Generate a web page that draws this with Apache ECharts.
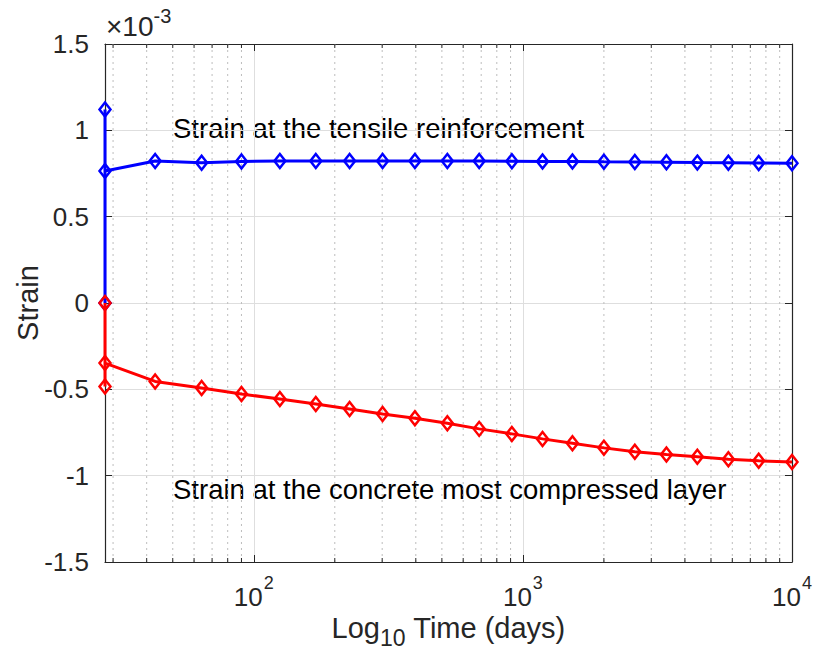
<!DOCTYPE html>
<html>
<head>
<meta charset="utf-8">
<script src="https://cdn.jsdelivr.net/npm/echarts@6/dist/echarts.min.js"></script>
<style>html,body{margin:0;padding:0;background:#fff}#c{width:813px;height:659px}</style>
</head>
<body>
<div id="c"></div>
<script>
// Time (days), log scale
const timeDays = [28, 28, 28, 43, 64, 90, 125, 170, 227, 301, 397, 524, 688, 910, 1183, 1528, 2000, 2606, 3415, 4449, 5802, 7520, 10000];
// Strain values in units of 1e-3
const strainTensile = [0, 1.12, 0.765, 0.822, 0.812, 0.82, 0.822, 0.823, 0.823, 0.823, 0.823, 0.822, 0.822, 0.821, 0.82, 0.82, 0.818, 0.817, 0.815, 0.813, 0.812, 0.811, 0.81];
const strainConcrete = [0, -0.483, -0.348, -0.454, -0.492, -0.527, -0.556, -0.585, -0.614, -0.643, -0.668, -0.697, -0.729, -0.758, -0.787, -0.812, -0.839, -0.861, -0.878, -0.891, -0.905, -0.914, -0.921];
const minorTicks = [30, 40, 50, 60, 70, 80, 90, 200, 300, 400, 500, 600, 700, 800, 900, 2000, 3000, 4000, 5000, 6000, 7000, 8000, 9000];
const xMin = 28, xMax = 10000, yMin = -1.5, yMax = 1.5, yStep = 0.5;
const labelTensile = 'Strain at the tensile reinforcement';
const labelConcrete = 'Strain at the concrete most compressed layer';

const FONT = '"Liberation Sans", Arial, Helvetica, sans-serif';
const AX = '#262626';
const chart = echarts.init(document.getElementById('c'), null, {renderer: 'svg'});

function pair(xs, ys) { return xs.map((x, i) => [x, ys[i]]); }
function isPow10(v) { const l = Math.log10(v); return Math.abs(l - Math.round(l)) < 1e-6; }

const option = {
  backgroundColor: '#fff',
  animation: false,
  grid: {left: 105, right: 21, top: 44, bottom: 97, containLabel: false, outerBoundsMode: 'none'},
  xAxis: [{
    type: 'log', logBase: 10, min: xMin, max: xMax,
    name: '{a|Log}{s|10}{a| Time (days)}', nameLocation: 'middle', nameGap: 51, nameMoveOverlap: false,
    nameTextStyle: {rich: {
      a: {fontFamily: FONT, fontSize: 29, color: AX, lineHeight: 36, verticalAlign: 'top'},
      s: {fontFamily: FONT, fontSize: 23, color: AX, lineHeight: 23, verticalAlign: 'bottom', padding: [21, 0, 0, 0]}
    }},
    axisLine: {show: true, onZero: false, lineStyle: {color: AX, width: 1.2}},
    axisTick: {show: true, inside: true, length: 7, lineStyle: {color: AX}},
    axisLabel: {
      margin: 12,
      formatter: v => isPow10(v) ? '{b|10}{p|' + Math.round(Math.log10(v)) + '}' : '',
      rich: {
        b: {fontFamily: FONT, fontSize: 26, color: AX, lineHeight: 36, verticalAlign: 'bottom'},
        p: {fontFamily: FONT, fontSize: 18, color: AX, lineHeight: 36, verticalAlign: 'top', padding: [0, 0, 0, 1]}
      },
      showMinLabel: false
    },
    splitLine: {show: true, lineStyle: {color: '#dedede', width: 1}}
  }, {
    type: 'log', logBase: 10, min: xMin, max: xMax, position: 'top',
    axisLine: {show: true, onZero: false, lineStyle: {color: AX, width: 1.2}},
    axisTick: {show: true, inside: true, length: 7, lineStyle: {color: AX}},
    axisLabel: {show: false}, splitLine: {show: false}
  }],
  yAxis: [{
    type: 'value', min: yMin, max: yMax, interval: yStep,
    name: 'Strain', nameLocation: 'middle', nameGap: 63, nameRotate: 90, nameMoveOverlap: false,
    nameTextStyle: {fontFamily: FONT, fontSize: 29, color: AX},
    axisLine: {show: true, onZero: false, lineStyle: {color: AX, width: 1.2}},
    axisTick: {show: true, inside: true, length: 7, lineStyle: {color: AX}},
    axisLabel: {fontFamily: FONT, fontSize: 26, color: AX, margin: 16},
    splitLine: {show: true, lineStyle: {color: '#dedede', width: 1}}
  }, {
    type: 'value', min: yMin, max: yMax, interval: yStep, position: 'right',
    axisLine: {show: true, onZero: false, lineStyle: {color: AX, width: 1.2}},
    axisTick: {show: true, inside: true, length: 7, lineStyle: {color: AX}},
    axisLabel: {show: false}, splitLine: {show: false}
  }],
  graphic: [
    {type: 'text', left: 106, top: 6, style: {
      text: '{a|×10}{b|-3}', rich: {
        a: {fontFamily: FONT, fontSize: 28, fill: AX, lineHeight: 34, verticalAlign: 'bottom'},
        b: {fontFamily: FONT, fontSize: 20, fill: AX, lineHeight: 34, verticalAlign: 'top'}
      }}},
    {type: 'text', x: 173, y: 128, style: {text: labelTensile, fontFamily: FONT, fontSize: 27.5, fill: '#000', verticalAlign: 'middle'}},
    {type: 'text', x: 173, y: 489, style: {text: labelConcrete, fontFamily: FONT, fontSize: 27.5, fill: '#000', verticalAlign: 'middle'}}
  ],
  series: [{
    type: 'custom', xAxisIndex: 0, yAxisIndex: 0, silent: true, z: 1,
    data: minorTicks.map(v => [v, 0]),
    encode: {x: 0, y: 1},
    clip: false,
    renderItem: function (params, api) {
      const v = api.value(0);
      const top = api.coord([v, yMax]);
      const bot = api.coord([v, yMin]);
      const st = {stroke: AX, lineWidth: 1};
      return {type: 'group', children: [
        {type: 'line', shape: {x1: top[0], y1: top[1], x2: bot[0], y2: bot[1]}, style: {stroke: '#bdbdbd', lineWidth: 1, lineDash: [2, 4]}},
        {type: 'line', shape: {x1: bot[0], y1: bot[1], x2: bot[0], y2: bot[1] - 4}, style: st},
        {type: 'line', shape: {x1: top[0], y1: top[1], x2: top[0], y2: top[1] + 4}, style: st}
      ]};
    }
  }, {
    type: 'line', name: 'Tensile', data: pair(timeDays, strainTensile), clip: false, z: 3,
    symbol: 'diamond', symbolSize: [11, 14], showAllSymbol: true,
    lineStyle: {color: '#0000ff', width: 3},
    itemStyle: {color: 'rgba(255,255,255,0)', borderColor: '#0000ff', borderWidth: 2.5}
  }, {
    type: 'line', name: 'Concrete', data: pair(timeDays, strainConcrete), clip: false, z: 4,
    symbol: 'diamond', symbolSize: [11, 14], showAllSymbol: true,
    lineStyle: {color: '#ff0000', width: 3},
    itemStyle: {color: 'rgba(255,255,255,0)', borderColor: '#ff0000', borderWidth: 2.5}
  }]
};
chart.setOption(option);
</script>
</body>
</html>
